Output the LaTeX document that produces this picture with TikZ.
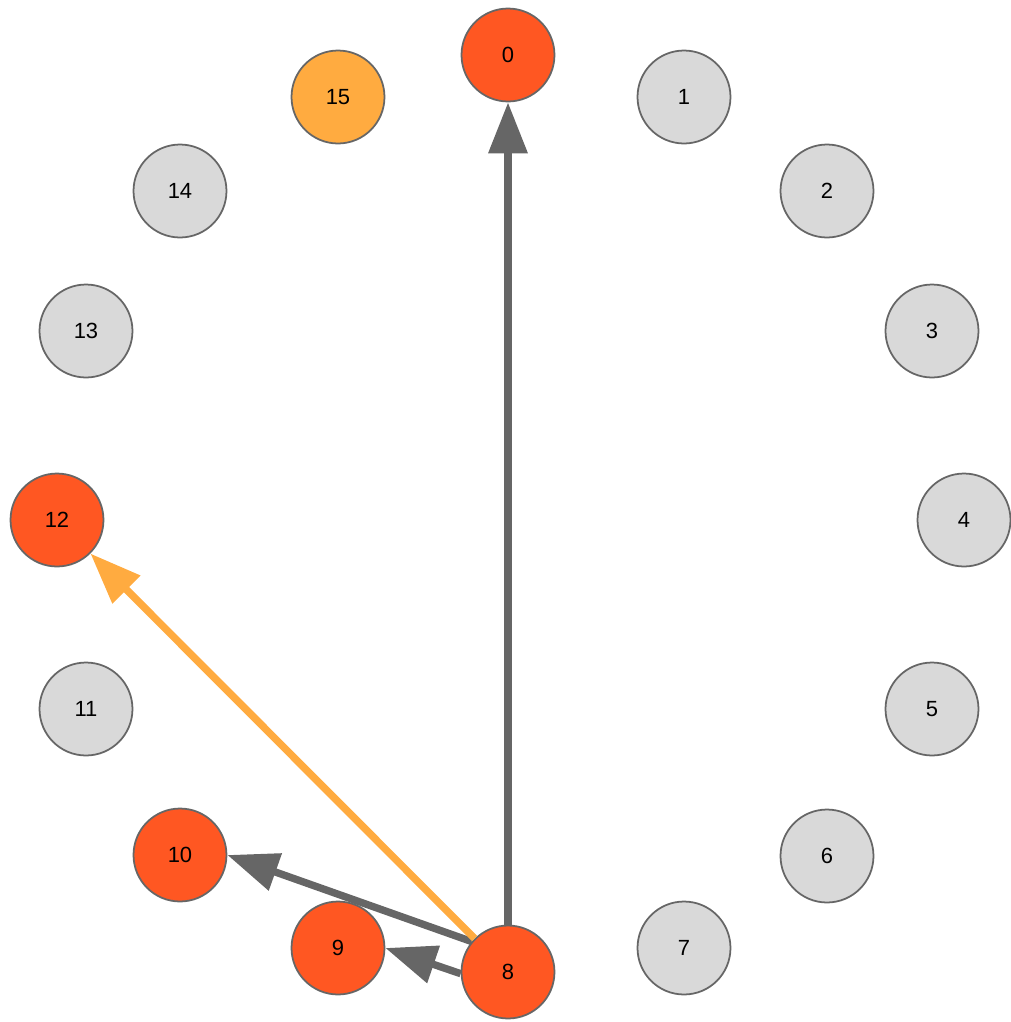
\documentclass[tikz,border=0pt]{standalone}
\usepackage{fontspec}
\setmainfont{Liberation Sans}
\usetikzlibrary{arrows.meta}
\definecolor{colLit}{HTML}{FF5722}
\definecolor{colWarm}{HTML}{FFAB40}
\definecolor{colIdle}{HTML}{D9D9D9}
\definecolor{colRim}{HTML}{666666}
\begin{document}
\begin{tikzpicture}
  [x=0.02cm, y=-0.02cm,
   every node/.style={shape=circle, draw=colRim, line width=1pt, minimum size=1.86cm,
     inner sep=0pt, font=\fontsize{12.5}{15}\selectfont},
   offnode/.style={fill=colIdle},
   litnode/.style={fill=colLit},
   warmnode/.style={fill=colWarm},
   link/.style={line width=4.2pt, draw=colRim, -{Triangle[length=29pt,width=21.5pt]}}]
  \useasboundingbox (0,0) rectangle (1011,1022);
  \node[litnode]  (n0)  at (508,55)  {0};
  \node[offnode]  (n1)  at (684,97)  {1};
  \node[offnode]  (n2)  at (827,191) {2};
  \node[offnode]  (n3)  at (932,331) {3};
  \node[offnode]  (n4)  at (964,520) {4};
  \node[offnode]  (n5)  at (932,709) {5};
  \node[offnode]  (n6)  at (827,856) {6};
  \node[offnode]  (n7)  at (684,948) {7};
  \node[litnode]  (n8)  at (508,972) {8};
  \node[litnode]  (n9)  at (338,948) {9};
  \node[litnode]  (n10) at (180,855) {10};
  \node[offnode]  (n11) at (86,709)  {11};
  \node[litnode]  (n12) at (57,520)  {12};
  \node[offnode]  (n13) at (86,331)  {13};
  \node[offnode]  (n14) at (180,191) {14};
  \node[warmnode] (n15) at (338,97)  {15};
  % edges out of 8
  \draw[link] (n8) -- (n0);
  \draw[link] (n8.182) -- (n9.east);
  \draw[link] (n8.140) -- (n10.east);
  \draw[link, draw=colWarm, fill=colWarm] (n8) -- (n12);
\end{tikzpicture}
\end{document}
